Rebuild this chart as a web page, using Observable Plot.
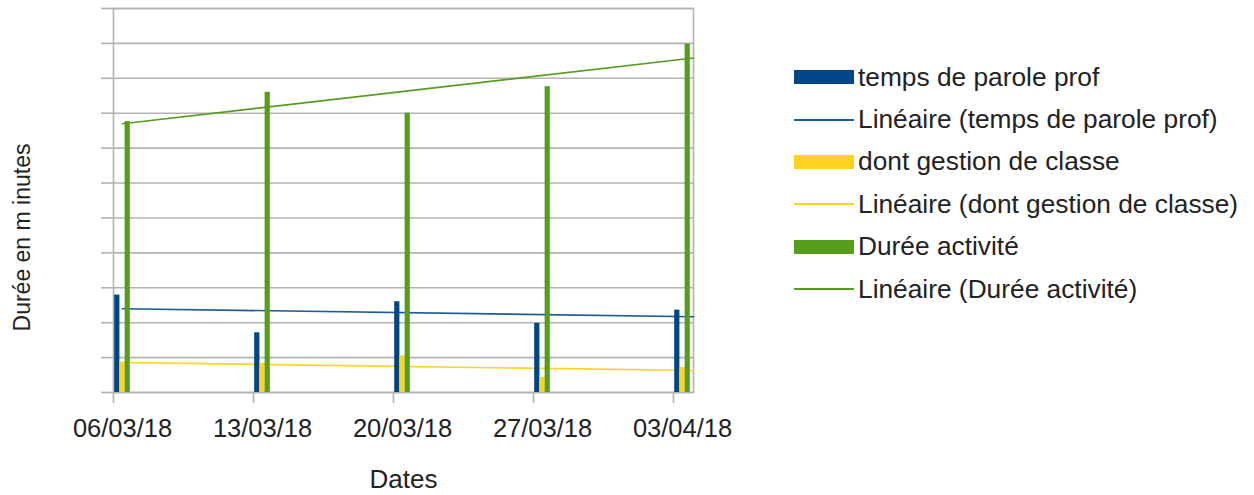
<!DOCTYPE html>
<html>
<head>
<meta charset="utf-8">
<script src="https://cdn.jsdelivr.net/npm/d3@7"></script>
<script src="https://cdn.jsdelivr.net/npm/@observablehq/plot@0.6"></script>
<style>
  html, body { margin: 0; padding: 0; background: #fff; overflow: hidden; }
  #wrap { position: relative; width: 1254px; height: 495px; font-family: "Liberation Sans", Arial, sans-serif; }
  #legend { position: absolute; left: 794px; top: 56px; }
  .row { display: flex; align-items: center; height: 42.4px; }
  .sw { width: 60px; flex: none; }
  .lbl { margin-left: 4px; font-size: 26.3px; color: #222; white-space: nowrap; }
</style>
</head>
<body>
<div id="wrap"><div id="legend"></div></div>
<script>
// ---- data ----
const dates = ["2018-03-06", "2018-03-13", "2018-03-20", "2018-03-27", "2018-04-03"];
const tickLabels = ["06/03/18", "13/03/18", "20/03/18", "27/03/18", "03/04/18"];
const parole = [13.95, 8.55, 13.0, 9.9, 11.8];       // temps de parole prof
const gestion = [4.35, 4.2, 5.25, 2.15, 3.6];         // dont gestion de classe
const activite = [38.8, 43.0, 40.0, 43.8, 49.9];      // Durée activité
// linear trend lines: value at start and at end of the axis
const trendParole = [12.0, 10.85];
const trendGestion = [4.3, 3.15];
const trendActivite = [38.5, 47.9];
const yTicks = [0, 5, 10, 15, 20, 25, 30, 35, 40, 45, 50, 55];
const seriesNames = ["temps de parole prof", "dont gestion de classe", "Durée activité"];
const trendNames = ["Linéaire (temps de parole prof)", "Linéaire (dont gestion de classe)", "Linéaire (Durée activité)"];
const colors = ["#004586", "#ffd320", "#579d1c"];
const trendColors = ["#1d5a98", "#ffd320", "#579d1c"];
const domainEnd = "2018-04-04";

// ---- build tables ----
const DAY = 864e5;
const dateObjs = dates.map(d => new Date(d));
const values = [parole, gestion, activite];
const trends = [trendParole, trendGestion, trendActivite];
const barStart = 0.06, barW = 0.26; // fractions of a day within the date slot
const bars = [];
values.forEach((vals, s) => vals.forEach((v, i) => {
  bars.push({
    series: seriesNames[s],
    x1: new Date(+dateObjs[i] + (barStart + barW * s) * DAY),
    x2: new Date(+dateObjs[i] + (barStart + barW * (s + 1)) * DAY),
    value: v
  });
}));
const trendStart = new Date(+dateObjs[0] + (barStart + barW * 1.5) * DAY);
const trendEnd = new Date(domainEnd);
const lines = [];
trends.forEach((t, s) => {
  lines.push({series: trendNames[s], date: trendStart, value: t[0]});
  lines.push({series: trendNames[s], date: trendEnd, value: t[1]});
});

const grid = "#b3b3b3";
const chart = Plot.plot({
  width: 1254,
  height: 495,
  marginLeft: 113,
  marginRight: 561,
  marginTop: 8,
  marginBottom: 103,
  style: {fontFamily: "'Liberation Sans', Arial, sans-serif", fontSize: "25.5px", color: "#222", background: "transparent"},
  x: {type: "utc", domain: [dateObjs[0], new Date(domainEnd)], label: null},
  y: {domain: [0, 55], label: null},
  color: {domain: [...seriesNames, ...trendNames], range: [...colors, ...trendColors]},
  marks: [
    Plot.gridY(yTicks, {stroke: grid, strokeOpacity: 1, strokeWidth: 1.6}),
    Plot.frame({stroke: grid, strokeWidth: 1.6}),
    Plot.axisY(yTicks, {tickSize: 12, tickFormat: () => "", stroke: grid, strokeWidth: 1.6, label: null}),
    Plot.axisX(dateObjs, {tickSize: 11, tickFormat: () => "", stroke: grid, strokeWidth: 1.6, label: null}),
    Plot.axisX(dateObjs, {
      tickSize: 0, tickPadding: 26, dx: 9, label: null, fill: "#222",
      tickFormat: d => tickLabels[dateObjs.findIndex(t => +t === +d)]
    }),
    Plot.line(lines, {x: "date", y: "value", z: "series", stroke: "series", strokeWidth: 1.6}),
    Plot.rect(bars, {x1: "x1", x2: "x2", y1: 0, y2: "value", fill: "series"}),
    Plot.text(["Dates"], {text: d => d, frameAnchor: "bottom", dy: 95, fontSize: 26, fill: "#222"}),
    Plot.text(["Durée en m inutes"], {text: d => d, frameAnchor: "left", textAnchor: "middle", rotate: -90, dx: -91, dy: 37, fontSize: 23, fill: "#222"})
  ]
});
document.getElementById("wrap").prepend(chart);

// ---- legend ----
const legend = document.getElementById("legend");
seriesNames.forEach((name, s) => {
  [[name, true], [trendNames[s], false]].forEach(([label, isBar]) => {
    const row = document.createElement("div");
    row.className = "row";
    const sw = document.createElement("span");
    sw.className = "sw";
    sw.style.height = isBar ? "14px" : "2px";
    sw.style.background = isBar ? colors[s] : trendColors[s];
    const t = document.createElement("span");
    t.className = "lbl";
    t.textContent = label;
    row.append(sw, t);
    legend.append(row);
  });
});
</script>
</body>
</html>
